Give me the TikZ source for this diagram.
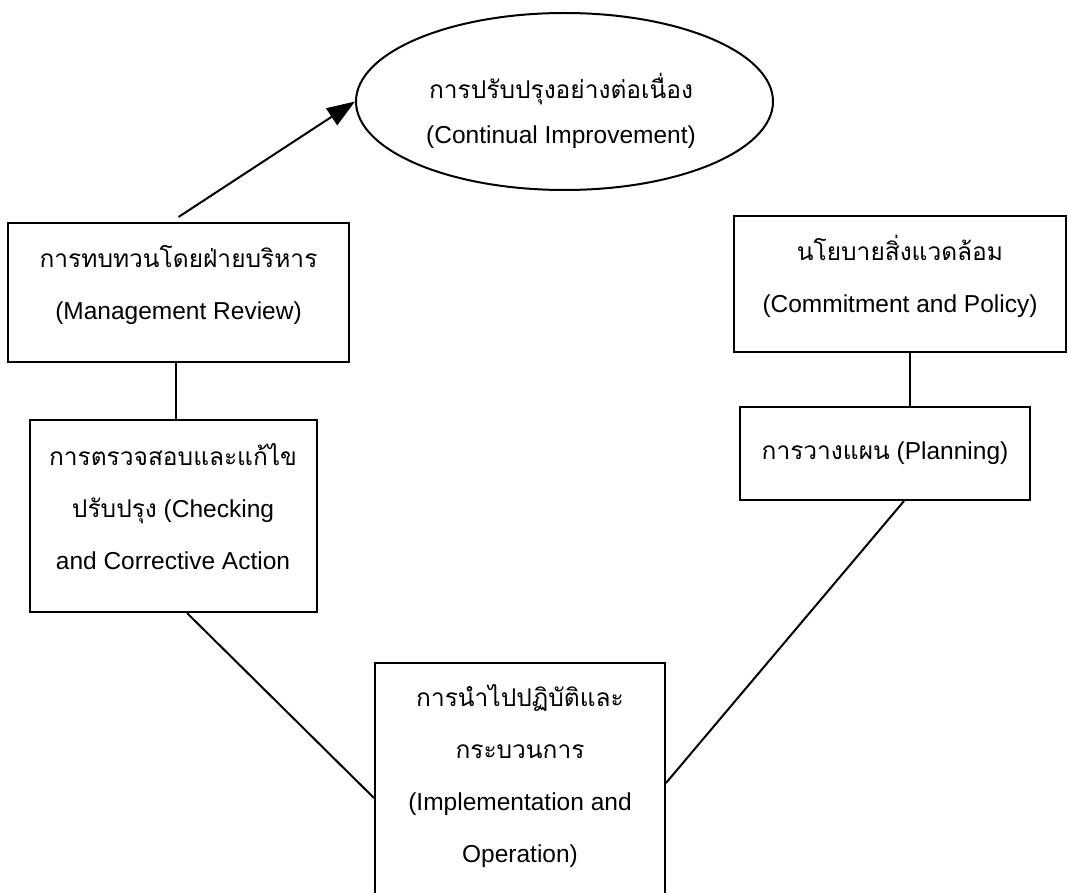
\documentclass[tikz,border=0pt]{standalone}
\usepackage{fontspec}
\setmainfont{Liberation Sans}
\newfontfamily\thaifont[Script=Thai]{Loma}
\usetikzlibrary{shapes.geometric,arrows.meta,positioning,calc}

\begin{document}
\begin{tikzpicture}[x=1pt, y=-1pt,
  every node/.style={font=\fontsize{24.5}{52}\selectfont, align=center},
  stagebox/.style={draw, line width=2pt, inner sep=0pt},
  link/.style={line width=2pt}]
\useasboundingbox (0,0) rectangle (1069,893);
% the boxes of the cycle
\node[stagebox, ellipse, minimum width=417pt, minimum height=177pt] (ci) at (564.5,101.5) {};
\node (citext) at (561,110.5) {{\thaifont การปรับปรุงอย่างต่อเนื่อง}\\[-7pt](Continual Improvement)};
\node[stagebox, minimum width=341pt, minimum height=139pt] (mr) at (178.5,292.5) {};
\node (mrtext) at (178.5,285) {{\thaifont การทบทวนโดยฝ่ายบริหาร}\\(Management Review)};
\node[stagebox, minimum width=287pt, minimum height=192pt] (ca) at (173,516) {};
\node (catext) at (173,506.5) {{\thaifont การตรวจสอบและแก้ไข}\\{\thaifont ปรับปรุง} (Checking\\and Corrective Action};
\node[stagebox, minimum width=332pt, minimum height=136pt] (cp) at (900,284) {};
\node (cptext) at (900,276) {{\thaifont นโยบายสิ่งแวดล้อม}\\(Commitment and Policy)};
\node[stagebox, minimum width=290pt, minimum height=93pt] (pl) at (885,453.5) {{\thaifont การวางแผน} (Planning)};
\node[stagebox, minimum width=290pt, minimum height=300pt, anchor=north] (im) at (520,662) {};
\node (imtext) at (520,776) {{\thaifont การนำไปปฏิบัติและ}\\{\thaifont กระบวนการ}\\(Implementation and\\Operation)};
% connectors
\draw[link, -{Triangle[length=28pt, width=20pt]}] ([yshift=5pt]mr.north) -- (ci.west);
\draw[link] ([xshift=-3pt]mr.south) -- ([xshift=-3pt]mr.south |- ca.north);
\draw[link] ([xshift=10pt]cp.south) -- ([xshift=10pt]cp.south |- pl.north);
\draw[link] ([xshift=14pt]ca.south) -- ([yshift=-136pt]im.north west);
\draw[link] ([xshift=19pt]pl.south) -- ([yshift=-121pt]im.north east);
\end{tikzpicture}
\end{document}
